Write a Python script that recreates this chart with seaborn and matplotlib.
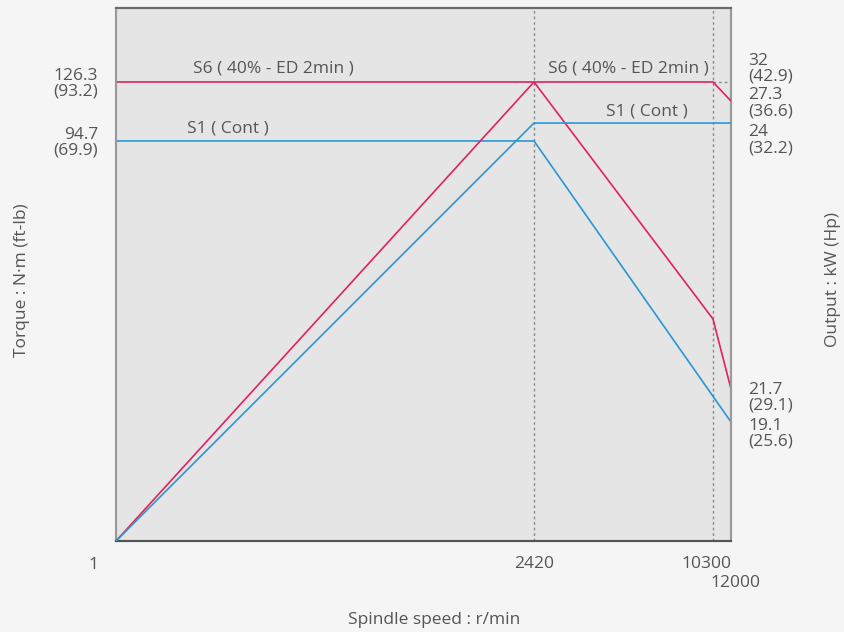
import numpy as np
import pandas as pd
import matplotlib
matplotlib.use("Agg")
import matplotlib.pyplot as plt
import seaborn as sns

# ---------------- data ----------------
speed_ticks = [1, 2420, 10300, 12000]
speed_tick_labels = ["1", "2420", "10300", "12000"]

s6_torque_speed = [1, 2420, 10300, 12000]
s6_torque = [126.3, 126.3, 29.7, 21.7]
s1_torque_speed = [1, 2420, 12000]
s1_torque = [94.7, 94.7, 19.1]

s6_power_speed = [1, 2420, 10300, 12000]
s6_power = [0, 32, 32, 27.3]
s1_power_speed = [1, 2420, 12000]
s1_power = [0, 24, 24]

torque_ticks = [126.3, 94.7]
torque_tick_labels = ["126.3\n(93.2)", "94.7\n(69.9)"]
power_label_values = [32, 27.3, 24]
power_label_texts = ["32\n(42.9)", "27.3\n(36.6)", "24\n(32.2)"]
torque_end_values = [21.7, 19.1]
torque_end_texts = ["21.7\n(29.1)", "19.1\n(25.6)"]

s6_label = "S6 ( 40% - ED 2min )"
s1_label = "S1 ( Cont )"

# ---------------- style ----------------
sns.set_theme(style="white")
plt.rcParams["font.family"] = ["Open Sans", "DejaVu Sans"]
TXT = "#555555"
PINK = "#e2215f"
BLUE = "#2897d6"
FS = 12.5

fig = plt.figure(figsize=(8.45, 6.32), dpi=100)
fig.patch.set_facecolor("#f5f5f5")
W, H = 845, 632
ax = fig.add_axes([116 / W, (H - 541) / H, 615 / W, 533 / H])
ax.set_facecolor("#e5e5e5")

# piecewise scales (schematic chart)
xa_v = np.array([1, 2420, 10300, 12000], float)
xa_p = np.array([0, 0.6797, 0.9707, 1.0])
ta_v = np.array([0, 19.1, 21.7, 29.7, 94.7, 126.3, 165.9])
ta_p = np.array([0, 0.2233, 0.2852, 0.4165, 0.7505, 0.8612, 1.0])
pa_v = np.array([0, 24, 27.3, 32, 50.3])
pa_p = np.array([0, 0.7842, 0.8255, 0.8612, 1.0])

def mk(v, p):
    return (lambda x: np.interp(x, v, p), lambda y: np.interp(y, p, v))

ax.set_xscale("function", functions=mk(xa_v, xa_p))
ax.set_yscale("function", functions=mk(ta_v, ta_p))
ax.set_xlim(1, 12000)
ax.set_ylim(0, 165.9)

ax2 = ax.twinx()
ax2.set_yscale("function", functions=mk(pa_v, pa_p))
ax2.set_ylim(0, 50.3)

# reference lines
for xv in [2420, 10300]:
    ax.axvline(xv, color="#8a8a8a", lw=1, ls=(0, (2, 2)), zorder=1)
ax2.plot([10300, 12000], [32, 32], color="#8a8a8a", lw=1, ls=(0, (2, 2)), zorder=1)

# series
df = pd.DataFrame
sns.lineplot(data=df({"s": s6_torque_speed, "t": s6_torque}), x="s", y="t", ax=ax,
             color=PINK, lw=1.2, estimator=None, sort=False, zorder=3)
sns.lineplot(data=df({"s": s1_torque_speed, "t": s1_torque}), x="s", y="t", ax=ax,
             color=BLUE, lw=1.2, estimator=None, sort=False, zorder=3)
sns.lineplot(data=df({"s": s6_power_speed, "p": s6_power}), x="s", y="p", ax=ax2,
             color=PINK, lw=1.2, estimator=None, sort=False, zorder=3)
sns.lineplot(data=df({"s": s1_power_speed, "p": s1_power}), x="s", y="p", ax=ax2,
             color=BLUE, lw=1.2, estimator=None, sort=False, zorder=3)

# ticks
ax.set_xticks([])
ax.set_yticks(torque_ticks)
ax.set_yticklabels(torque_tick_labels, fontsize=FS, color=TXT, linespacing=1.0)
ax.tick_params(axis="y", length=0, pad=13)
ax2.set_yticks([])
ax.set_xlabel("")
ax.set_ylabel("")
ax2.set_ylabel("")

# speed labels (placed individually, as in the reference)
x_offsets = [(-23, -24), (0, -23), (-7, -23), (4, -42)]
for v, lab, off in zip(speed_ticks, speed_tick_labels, x_offsets):
    ax.annotate(lab, xy=(v, 0), xycoords=("data", "axes fraction"), xytext=off,
                textcoords="offset pixels", ha="center", va="center", fontsize=FS,
                color=TXT, annotation_clip=False)

offs_p = [13, -2, -17]
for v, lab, o in zip(power_label_values, power_label_texts, offs_p):
    ax2.annotate(lab, xy=(1, v), xycoords=("axes fraction", "data"), xytext=(17, o),
                 textcoords="offset pixels", ha="left", va="center", fontsize=FS,
                 color=TXT, linespacing=1.0, annotation_clip=False)
offs_t = [-9, -12]
for v, lab, o in zip(torque_end_values, torque_end_texts, offs_t):
    ax.annotate(lab, xy=(1, v), xycoords=("axes fraction", "data"), xytext=(17, o),
                textcoords="offset pixels", ha="left", va="center", fontsize=FS,
                color=TXT, linespacing=1.0, annotation_clip=False)

# series labels
ax.annotate(s6_label, xy=(0.256, 126.3), xycoords=("axes fraction", "data"), xytext=(0, 5),
            textcoords="offset pixels", ha="center", va="bottom", fontsize=FS, color=TXT)
ax.annotate(s1_label, xy=(0.182, 94.7), xycoords=("axes fraction", "data"), xytext=(0, 4),
            textcoords="offset pixels", ha="center", va="bottom", fontsize=FS, color=TXT)
ax2.annotate(s6_label, xy=(0.8325, 32), xycoords=("axes fraction", "data"), xytext=(0, 5),
             textcoords="offset pixels", ha="center", va="bottom", fontsize=FS, color=TXT)
ax2.annotate(s1_label, xy=(0.863, 24), xycoords=("axes fraction", "data"), xytext=(0, 4),
             textcoords="offset pixels", ha="center", va="bottom", fontsize=FS, color=TXT)

# axis titles
fig.text(434 / W, 1 - 620 / H, "Spindle speed : r/min", ha="center", va="center",
         fontsize=FS, color=TXT)
fig.text(22 / W, 1 - 280 / H, "Torque : N·m (ft-lb)", ha="center", va="center",
         rotation=90, fontsize=FS, color=TXT)
fig.text(833 / W, 1 - 280 / H, "Output : kW (Hp)", ha="center", va="center",
         rotation=90, fontsize=FS, color=TXT)

# spines
for a in (ax, ax2):
    for name, sp in a.spines.items():
        sp.set_visible(True)
        sp.set_linewidth(1.5)
    a.spines["top"].set_color("#6a6a6a")
    a.spines["bottom"].set_color("#555555")
    a.spines["left"].set_color("#9a9a9a")
    a.spines["right"].set_color("#9a9a9a")
ax2.patch.set_visible(False)

fig.savefig("out.png", dpi=100, facecolor=fig.get_facecolor())
